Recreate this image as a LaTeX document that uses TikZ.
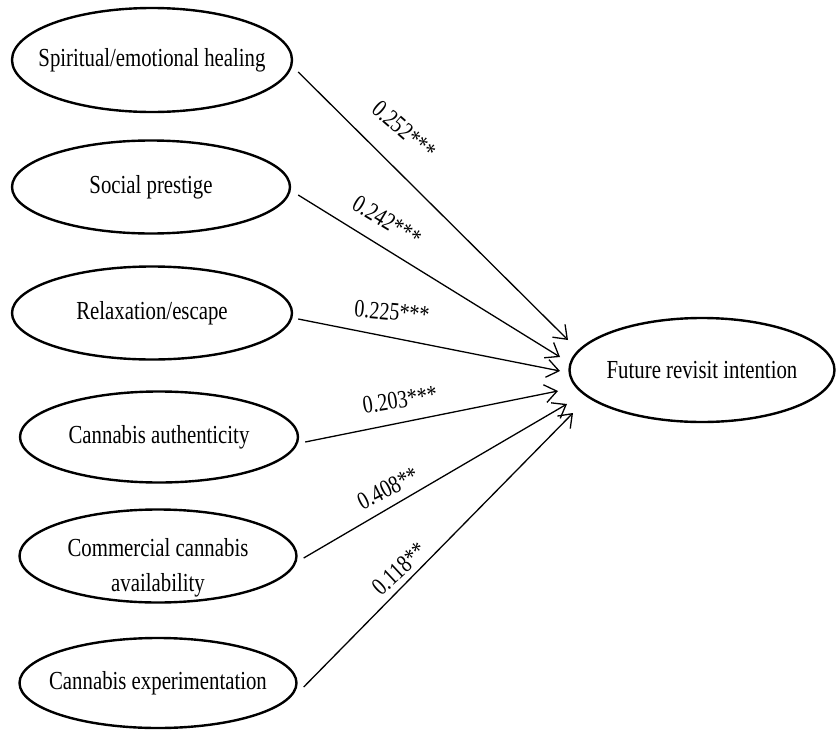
\documentclass[tikz,border=0pt]{standalone}
\usepackage{fontspec}
\setmainfont{Liberation Serif}[FakeStretch=0.8]
\usetikzlibrary{shapes.geometric,arrows.meta}
\newcommand{\zw}[1]{\makebox[0pt]{#1}}
\begin{document}
\begin{tikzpicture}[x=1pt,y=-1pt,
  var/.style={ellipse,draw,line width=2.4pt,inner sep=0pt,align=center,
    font=\fontsize{26}{35}\selectfont},
  vartext/.style={inner sep=0pt,align=center,font=\fontsize{26}{35}\selectfont},
  arr/.style={line width=1.3pt,-{Straight Barb[length=12pt,width=18pt,line width=1.3pt]}},
  coef/.style={inner sep=0pt,font=\fontsize{25}{27}\selectfont}]
\useasboundingbox (0,0) rectangle (836,731);

\node[var,minimum width=280pt,minimum height=104pt] (e1) at (152,60) {\zw{Spiritual/emotional healing}};
\node[var,minimum width=278pt,minimum height=93pt] (e2) at (151,187) {\zw{Social prestige}};
\node[var,minimum width=280pt,minimum height=93pt] (e3) at (152,313) {\zw{Relaxation/escape}};
\node[var,minimum width=278pt,minimum height=91pt] (e4) at (159,437) {\zw{Cannabis authenticity}};
\node[var,minimum width=277pt,minimum height=93pt] (e5) at (158,556) {};
\node[vartext] (e5t) at (158,568) {Commercial cannabis\\availability};
\node[var,minimum width=277pt,minimum height=90pt] (e6) at (158,683) {\zw{Cannabis experimentation}};
\node[var,minimum width=265pt,minimum height=104pt] (fut) at (702,370) {\zw{Future revisit intention}};

\coordinate (s1) at ([xshift=5pt,yshift=-12pt]e1.east);
\coordinate (s2) at ([xshift=7pt,yshift=-8pt]e2.east);
\coordinate (s3) at ([xshift=5pt,yshift=-6pt]e3.east);
\coordinate (s4) at ([xshift=6pt,yshift=-5pt]e4.east);
\coordinate (s5) at ([xshift=6pt,yshift=-2pt]e5.east);
\coordinate (s6) at ([xshift=6pt,yshift=-4pt]e6.east);

\coordinate (t1) at (568,340);
\coordinate (t2) at (560,357);
\coordinate (t3) at (560,371);
\coordinate (t4) at (558,391);
\coordinate (t5) at (567,404);
\coordinate (t6) at (573,413);

\draw[arr] (s1) -- (t1);
\draw[arr] (s2) -- (t2);
\draw[arr] (s3) -- (t3);
\draw[arr] (s4) -- (t4);
\draw[arr] (s5) -- (t5);
\draw[arr] (s6) -- (t6);

\node[coef,rotate=-41] (l1) at (404,130) {0.252***};
\node[coef,rotate=-31] (l2) at (387,221) {0.242***};
\node[coef,rotate=-5] (l3) at (392,312) {0.225***};
\node[coef,rotate=9] (l4) at (400,400) {0.203***};
\node[coef,rotate=27] (l5) at (388,488) {0.408**};
\node[coef,rotate=43] (l6) at (399,569) {0.118**};
\end{tikzpicture}
\end{document}
